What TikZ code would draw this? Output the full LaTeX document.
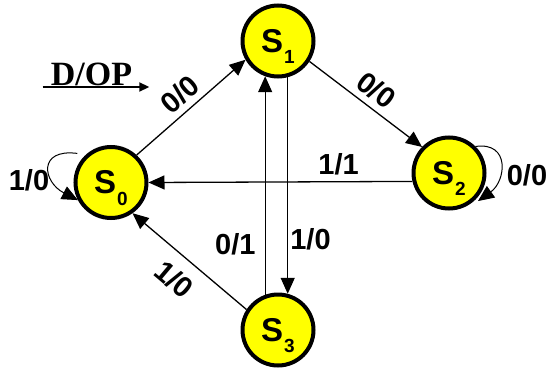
\documentclass[tikz,border=0pt]{standalone}
\usepackage{fontspec}
\setmainfont{Liberation Sans}
\newfontfamily\serifgras{Liberation Serif}
\usepackage{tikz}
\usetikzlibrary{arrows.meta,positioning}
\definecolor{etat}{RGB}{255,255,0}
\newcommand{\etiq}{\fontsize{29}{29}\selectfont\bfseries}
\newcommand{\etatS}[1]{\fontsize{33}{33}\selectfont\bfseries S\kern1pt\smash{\raisebox{-11.5pt}{\fontsize{19}{19}\selectfont #1}}}

\begin{document}
\begin{tikzpicture}[x=1pt,y=-1pt,
    etatnode/.style={circle,draw,line width=4pt,fill=etat,minimum size=71pt,inner sep=0pt},
    trans/.style={line width=1.3pt,-{Triangle[length=16pt,width=14pt]}},
    lab/.style={font=\etiq,inner sep=1pt}]
  \useasboundingbox (0,0) rectangle (553,369);
  % etats
  \node[etatnode] (s0) at (111,182.5) {\etatS{0}};
  \node[etatnode] (s1) at (278,41) {\etatS{1}};
  \node[etatnode] (s2) at (449,173) {\etatS{2}};
  \node[etatnode] (s3) at (278,330) {\etatS{3}};
  % transitions
  \draw[trans] (s0.47) -- (s1.210) node[lab,midway,sloped,above=5pt] (t01) {0/0};
  \draw[trans] (s1.327) -- (s2.136) node[lab,midway,sloped,above=5pt] (t12) {0/0};
  \draw[trans] (s2.193) -- (s0.east) node[lab,pos=0.28,above=5pt] (t20) {1/1};
  \draw[trans] (s1.285) -- (s3.75) node[lab,pos=0.75,right=1pt] (t13) {1/0};
  \draw[trans] (s3.110) -- (s1.250) node[lab,pos=0.23,left=8pt] (t31) {0/1};
  \draw[trans] (s3.147) -- (s0.305) node[lab,midway,sloped,below=11pt] (t30) {1/0};
  % boucles
  \draw[trans,line width=1pt] ([shift={(-5,-5)}]s0.140) .. controls +(-40,-5) and +(-35,-18) .. (s0.208);
  \node[lab] (b00) at (29,180) {1/0};
  \draw[trans,line width=1pt] (s2.45) .. controls +(35,-5) and +(28,-20) .. ([shift={(2,2)}]s2.-44);
  \node[lab] (b22) at (527,175) {0/0};
  % entree
  \node[font=\serifgras\bfseries\fontsize{34}{34}\selectfont,inner sep=0pt,anchor=base] (dop) at (91.5,85) {D/OP};
  \draw[line width=1.8pt,-{Triangle[length=10pt,width=9pt]}] ([xshift=-8pt,yshift=-2pt]dop.base west) -- ([xshift=17pt,yshift=-2pt]dop.base east);
\end{tikzpicture}
\end{document}
